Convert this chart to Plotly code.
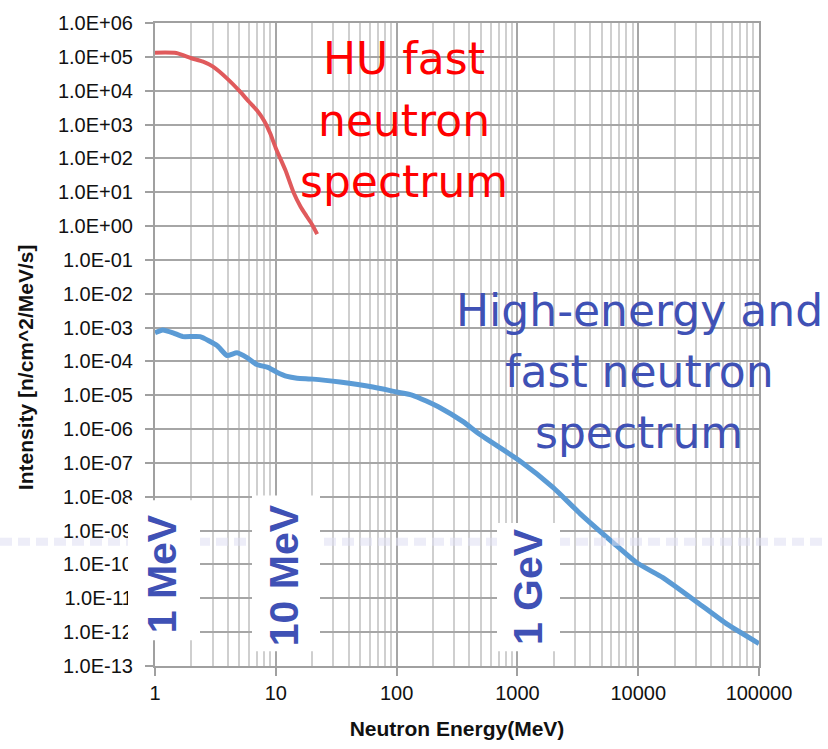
import plotly.graph_objects as go

# ---------------- data ----------------
hu_energy = [1, 1.5, 2, 2.5, 3, 4, 5, 6, 7, 8, 9, 10, 12, 14, 16, 18, 20, 22]
hu_intensity = [1.33e5, 1.3e5, 9.1e4, 7.2e4, 5.2e4, 2.2e4, 9.8e3, 4.7e3, 2.6e3, 1.3e3,
                5.4e2, 2.0e2, 45, 10, 3.8, 1.95, 1.1, 0.58]

he_energy = [1, 1.16, 1.41, 1.7, 2.36, 3.26, 3.95, 4.77, 5.77, 6.97, 8.6, 10.2, 12.4, 15,
             20.3, 34, 63.6, 100, 136, 229, 355, 490, 1050, 1970, 3300, 6250, 9800,
             16000, 30700, 54000, 100000]
he_intensity = [7.0e-4, 8.5e-4, 7.0e-4, 5.4e-4, 5.4e-4, 2.95e-4, 1.5e-4, 1.8e-4, 1.3e-4,
                8.1e-5, 6.7e-5, 4.8e-5, 3.6e-5, 3.2e-5, 3.0e-5, 2.45e-5, 1.75e-5, 1.25e-5,
                1.0e-5, 4.3e-6, 1.66e-6, 6.9e-7, 1.14e-7, 1.9e-8, 3.2e-9, 4.3e-10, 1.1e-10,
                4.1e-11, 7.7e-12, 1.75e-12, 4.6e-13]

x_tick_vals = [1, 10, 100, 1000, 10000, 100000]
x_tick_text = ["1", "10", "100", "1000", "10000", "100000"]
y_exponents = list(range(-13, 7))
y_tick_vals = [10.0 ** k for k in y_exponents]
y_tick_text = [f"1.0E{k:+03d}" for k in y_exponents]
x_minor_vals = [d * 10 ** k for k in range(0, 5) for d in range(2, 10)]

red_label = ["HU fast", "neutron", "spectrum"]
blue_label = ["High-energy and", "fast neutron", "spectrum"]
marker_labels = ["1 MeV", "10 MeV", "1 GeV"]

# ---------------- figure ----------------
fig = go.Figure()
fig.add_trace(go.Scatter(x=hu_energy, y=hu_intensity, mode="lines",
                         line=dict(color="#E05A5C", width=4, shape="spline", smoothing=0.6),
                         showlegend=False, hoverinfo="skip"))
fig.add_trace(go.Scatter(x=he_energy, y=he_intensity, mode="lines",
                         line=dict(color="#5B9BD5", width=5, shape="spline", smoothing=0.5),
                         showlegend=False, hoverinfo="skip"))

W, H = 828, 749
L, R, T, B = 155, 69, 16, 81
pw, ph = W - L - R, H - T - B


def px(x):
    return (x - L) / pw


def py(y):
    return (H - B - y) / ph


shapes = []
# faint dashed band
shapes.append(dict(type="line", xref="paper", yref="paper", x0=px(0), x1=px(W),
                   y0=py(542), y1=py(542), layer="above",
                   line=dict(color="rgba(222,222,242,0.55)", width=8, dash="12px,6px")))
# white boxes behind the rotated labels
for (x0, x1, y0, y1) in [(128, 200, 500, 642), (252, 320, 495, 653), (497, 560, 523, 653)]:
    shapes.append(dict(type="rect", xref="paper", yref="paper", x0=px(x0), x1=px(x1),
                       y0=py(y1), y1=py(y0), layer="above",
                       fillcolor="white", line=dict(width=0)))

annotations = []
for txt, yc in zip(red_label, [52, 115, 177]):
    annotations.append(dict(text=txt, xref="paper", yref="paper", x=px(404), y=py(yc),
                            showarrow=False, xanchor="center", yanchor="middle",
                            font=dict(family="DejaVu Sans", size=44, color="#FF0000")))
for txt, yc in zip(blue_label, [308, 369, 431]):
    annotations.append(dict(text=txt, xref="paper", yref="paper", x=px(639), y=py(yc),
                            showarrow=False, xanchor="center", yanchor="middle",
                            font=dict(family="DejaVu Sans", size=44, color="#3F51B5")))
for txt, (xc, yc) in zip(marker_labels, [(162, 575), (284, 576), (528, 588)]):
    annotations.append(dict(text=f"<b>{txt}</b>", xref="paper", yref="paper", x=px(xc), y=py(yc),
                            showarrow=False, xanchor="center", yanchor="middle", textangle=-90,
                            font=dict(family="Liberation Sans", size=41, color="#3F51B5")))
annotations.append(dict(text="<b>Intensity [n/cm^2/MeV/s]</b>", xref="paper", yref="paper",
                        x=px(25), y=py(365), showarrow=False, textangle=-90,
                        xanchor="center", yanchor="middle",
                        font=dict(family="Liberation Sans", size=21, color="#111111")))

fig.update_layout(
    width=W, height=H,
    margin=dict(l=L, r=R, t=T, b=B),
    paper_bgcolor="white", plot_bgcolor="white",
    shapes=shapes, annotations=annotations,
    showlegend=False,
)
fig.update_xaxes(
    type="log", range=[0, 5],
    tickmode="array", tickvals=x_tick_vals, ticktext=x_tick_text,
    ticks="outside", ticklen=8, tickwidth=2, tickcolor="#A0A0A0",
    tickfont=dict(family="Liberation Sans", size=20, color="#111111"),
    showgrid=True, gridcolor="#A6A6A6", gridwidth=2,
    minor=dict(tickmode="array", tickvals=x_minor_vals, showgrid=True,
               gridcolor="#CFCFCF", gridwidth=2, ticks=""),
    showline=True, linecolor="#A0A0A0", linewidth=2, mirror=True,
    title=dict(text="<b>Neutron Energy(MeV)</b>", standoff=18,
               font=dict(family="Liberation Sans", size=21, color="#111111")),
    zeroline=False,
)
fig.update_yaxes(
    type="log", range=[-13, 6],
    tickmode="array", tickvals=y_tick_vals, ticktext=y_tick_text,
    ticks="outside", ticklen=8, tickwidth=2, tickcolor="#A0A0A0",
    ticklabelstandoff=8,
    tickfont=dict(family="Liberation Sans", size=20, color="#111111"),
    showgrid=True, gridcolor="#A6A6A6", gridwidth=2,
    showline=True, linecolor="#A0A0A0", linewidth=2, mirror=True,
    zeroline=False,
)

fig.write_html("out.html")
